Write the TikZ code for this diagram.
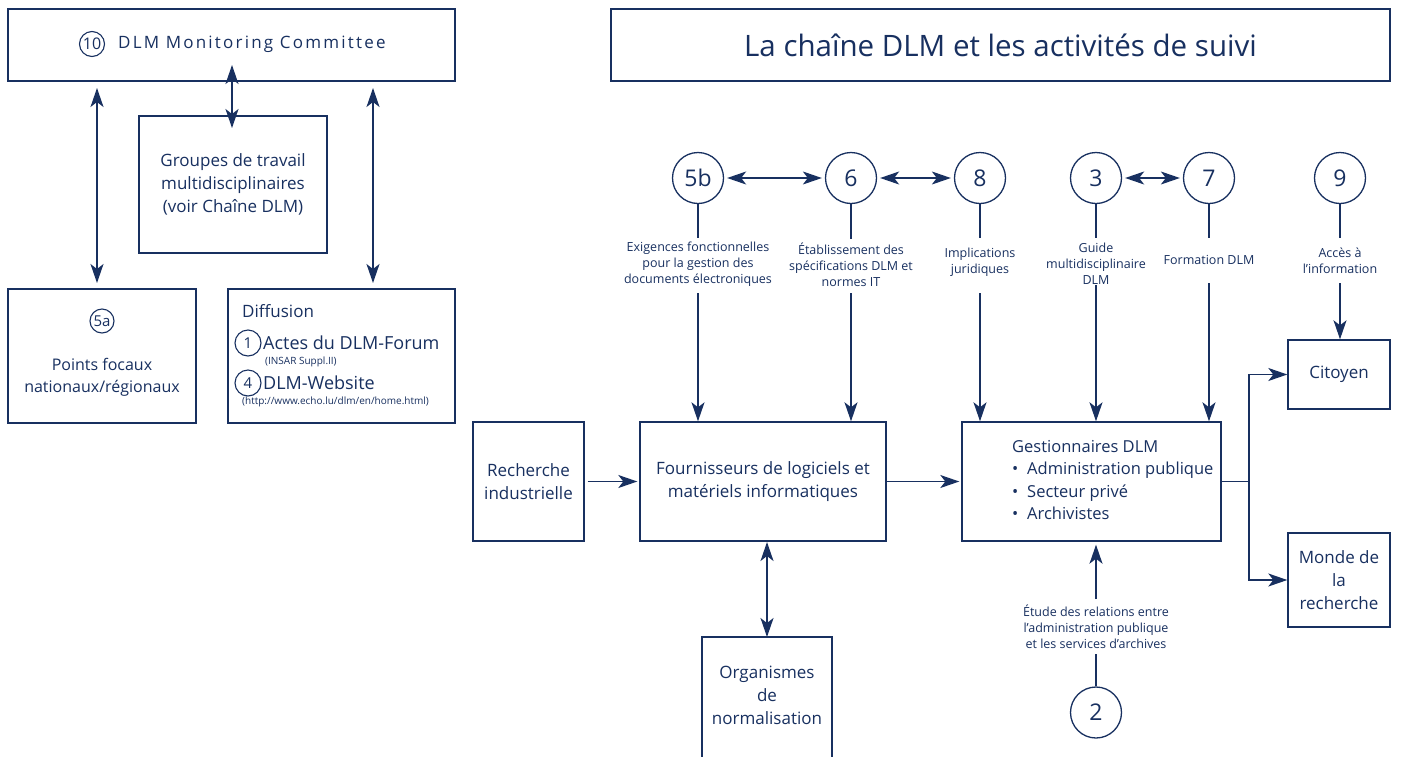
\documentclass[tikz,border=0pt]{standalone}
\usepackage{fontspec}
\setmainfont{Open Sans}
\usetikzlibrary{arrows.meta}
\definecolor{navy}{RGB}{24,48,96}
\begin{document}
\begin{tikzpicture}[x=1pt,y=-1pt,
 frame/.style={draw=navy,line width=1.4pt},
 box/.style={frame,text=navy,align=center,inner sep=0pt,font=\fontsize{17}{23}\selectfont},
 txt/.style={text=navy,align=center,inner sep=0pt,font=\fontsize{17}{23}\selectfont},
 lbl/.style={text=navy,align=center,inner sep=0pt,font=\fontsize{12.5}{16}\selectfont},
 num/.style={circle,draw=navy,line width=1.3pt,minimum size=51pt,inner sep=0pt,text=navy,font=\fontsize{23}{23}\selectfont},
 snum/.style={circle,draw=navy,line width=1.1pt,minimum size=25pt,inner sep=0pt,text=navy,font=\fontsize{15}{15}\selectfont},
 conn/.style={draw=navy,line width=1.4pt},
 arr/.style={conn,-{Stealth[length=19pt,width=13pt,inset=5pt]}},
 darr/.style={conn,{Stealth[length=19pt,width=13pt,inset=5pt]}-{Stealth[length=19pt,width=13pt,inset=5pt]}},
]
\useasboundingbox[fill=white] (0,0) rectangle (1402,756);

% ---------- left part ----------
\node[box,minimum width=447pt,minimum height=72pt] (mc) at (231.5,45) {};
\node[snum,font=\fontsize{16}{16}\selectfont] (n10) at (92,44) {10};
\node[txt,anchor=west,font=\fontsize{17}{18}\addfontfeatures{LetterSpace=13}\selectfont] (mct) at (118,44) {DLM Monitoring Committee};

\node[box,minimum width=188pt,minimum height=137pt] (grp) at (233,184.5) {Groupes de travail\\multidisciplinaires\\(voir Chaîne DLM)};

\node[box,minimum width=188pt,minimum height=134pt] (pf) at (102,356) {};
\node[snum,minimum size=24pt] (n5a) at (102,321) {5a};
\node[txt,font=\fontsize{16}{22}\selectfont] (pft) at (102,377) {Points focaux\\nationaux/régionaux};

\node[box,minimum width=227pt,minimum height=134pt] (diff) at (341.5,356) {};
\node[txt,anchor=west] (difft) at (242,311) {Diffusion};
\node[snum,minimum size=26pt] (n1) at (248,343) {1};
\node[txt,anchor=west,font=\fontsize{18}{20}\selectfont] (actes) at (263,343) {Actes du DLM-Forum};
\node[txt,anchor=west,font=\fontsize{10}{11}\selectfont] (insar) at (265,362) {(INSAR Suppl.II)};
\node[snum,minimum size=26pt] (n4) at (248,383) {4};
\node[txt,anchor=west,font=\fontsize{18}{20}\selectfont] (web) at (263,383) {DLM-Website};
\node[txt,anchor=west,font=\fontsize{10}{11}\selectfont] (url) at (242,402) {(http://www.echo.lu/dlm/en/home.html)};

\coordinate (la) at (97,88); \coordinate (lb) at (97,283);
\coordinate (ra) at (373,88); \coordinate (rb) at (373,283);
\coordinate (ga) at (232,65); \coordinate (gb) at (232,128);
\draw[darr] (la) -- (lb);
\draw[darr] (ra) -- (rb);
\draw[darr] (ga) -- (gb);

% ---------- right part ----------
\node[box,minimum width=779pt,minimum height=72pt,font=\fontsize{29.5}{32}\selectfont] (title) at (1000.5,45) {La chaîne DLM et les activités de suivi};

\node[num] (c5b) at (698,178) {5b};
\node[num] (c6) at (851,178) {6};
\node[num] (c8) at (980,178) {8};
\node[num] (c3) at (1096,178) {3};
\node[num] (c7) at (1209,178) {7};
\node[num] (c9) at (1340,178) {9};
\node[num] (c2) at (1096,712.5) {2};

\node[lbl] (l5b) at (698,264) {Exigences fonctionnelles\\pour la gestion des\\documents électroniques};
\node[lbl] (l6) at (851,264.5) {Établissement des\\spécifications DLM et\\normes IT};
\node[lbl] (l8) at (980,262.5) {Implications\\juridiques};
\node[lbl] (l3) at (1096,264) {Guide\\multidisciplinaire\\DLM};
\node[lbl] (l7) at (1209,260) {Formation DLM};
\node[lbl] (l9) at (1340,260.5) {Accès à\\l’information};
\node[lbl] (l2) at (1096,627) {Étude des relations entre\\l’administration publique\\et les services d’archives};

\node[box,minimum width=111pt,minimum height=119pt] (rech) at (528.5,481.5) {Recherche\\industrielle};
\node[box,minimum width=246pt,minimum height=119pt] (four) at (763,481.5) {Fournisseurs de logiciels et\\matériels informatiques};
\node[box,minimum width=259pt,minimum height=119pt] (gest) at (1091.5,481.5) {};
\node[txt,anchor=west,align=left,font=\fontsize{16.5}{22.5}\selectfont] (gestt) at (1012,480) {Gestionnaires DLM\\\makebox[15pt][l]{•}Administration publique\\\makebox[15pt][l]{•}Secteur privé\\\makebox[15pt][l]{•}Archivistes};
\node[box,minimum width=102pt,minimum height=69pt] (cit) at (1339,374.5) {Citoyen};
\node[box,minimum width=102pt,minimum height=94pt] (monde) at (1339,580) {Monde de\\la\\recherche};
\node[txt] (org) at (767,695) {Organismes\\de\\normalisation};
\draw[frame] (702,637) rectangle (832,775);

% circle links
\draw[darr,shorten <=3pt,shorten >=3pt] (c5b) -- (c6);
\draw[darr,shorten <=3pt,shorten >=3pt] (c6) -- (c8);
\draw[darr,shorten <=3pt,shorten >=3pt] (c3) -- (c7);

% verticals
\coordinate (a5b) at (698,238); \coordinate (b5b) at (698,293);
\coordinate (a6) at (851,239); \coordinate (b6) at (851,293);
\coordinate (a8) at (980,238); \coordinate (b8) at (980,293);
\coordinate (a3) at (1096,238); \coordinate (b3) at (1096,285);
\coordinate (a7) at (1209,238); \coordinate (b7) at (1209,283);
\coordinate (a9) at (1340,238); \coordinate (b9) at (1340,283);
\coordinate (a2) at (1096,654); \coordinate (b2) at (1096,599);
\foreach \n in {5b,6,8,3,7,9,2} {\draw[conn] (c\n) -- (a\n);}
\draw[arr] (b5b) -- (b5b |- four.north);
\draw[arr] (b6) -- (b6 |- four.north);
\draw[arr] (b8) -- (b8 |- gest.north);
\draw[arr] (b3) -- (b3 |- gest.north);
\draw[arr] (b7) -- (b7 |- gest.north);
\draw[arr] (b9) -- (b9 |- cit.north);
\draw[arr,shorten >=3pt] (b2) -- (b2 |- gest.south);

% horizontal flow
\draw[arr,shorten <=3pt,shorten >=2pt] (rech) -- (four);
\draw[arr,shorten >=2pt] (four) -- (gest);
\coordinate (j) at (1249,481.5);
\draw[conn] (gest.east) -- (j);
\draw[arr] (j) |- (cit.west);
\draw[arr] (j) |- (monde.west);

\coordinate (o1) at (767,542); \coordinate (o2) at (767,637);
\draw[darr] (o1) -- (o2);
\end{tikzpicture}
\end{document}
